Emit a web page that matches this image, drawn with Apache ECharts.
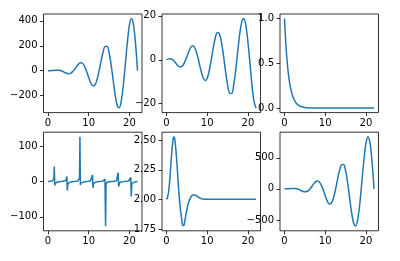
<!DOCTYPE html>
<html><head><meta charset="utf-8">
<script src="https://cdn.jsdelivr.net/npm/echarts@6/dist/echarts.min.js"></script>
<style>html,body{margin:0;padding:0;background:#fff}#c{width:400px;height:261px}</style>
</head><body><div id="c"></div>
<script>
// ---- data ----
const x1 = [0,0.5,1,1.5,2,2.5,3,3.5,4,4.5,5,5.5,6,6.5,7,7.5,8,8.5,9,9.5,10,10.5,11,11.5,12,12.5,13,13.5,14,14.5,15,15.5,16,16.5,17,17.5,18,18.5,19,19.5,20,20.5,21,21.5,21.99];
const y1 = [0,0.12,0.84,2.24,3.64,3.74,1.27,-4.30,-12.11,-19.79,-23.97,-21.34,-10.06,9.09,32.19,52.76,63.32,57.69,33.38,-6.79,-54.40,-96.99,-121.0,-115.78,-77.27,-10.36,71.01,146.49,194.16,196.56,146.32,49.61,-73.70,-193.79,-277.84,-298.78,-243.32,-117.22,54.08,230.24,365.16,418.95,368.98,218.00,0];
const y2 = [0,0.44,0.54,0.11,-0.83,-2.00,-2.97,-3.28,-2.61,-0.95,1.42,3.90,5.76,6.35,5.28,2.60,-1.16,-5.12,-8.20,-9.47,-8.39,-4.99,0.05,5.56,10.13,12.47,11.80,8.03,1.91,-5.15,-11.40,-15.17,-15.32,-11.59,-4.68,3.84,11.89,17.38,18.79,15.52,8.16,-1.63,-11.50,-18.96,-21.99];
const x3 = [0,0.25,0.5,0.75,1,1.25,1.5,2,2.5,3,3.5,4,5,6,7,8,10,12,14,16,18,20,21.99];
const y3 = [1,0.7788,0.6065,0.4724,0.3679,0.2865,0.2231,0.1353,0.0821,0.0498,0.0302,0.0183,0.0067,0.0025,0.0009,0.0003,0,0,0,0,0,0,0];
const x4 = [0,0.5,1.0,1.3,1.45,1.547,1.658,1.8,2.2,2.6,3.14,3.7,4.1,4.4,4.55,4.642,4.752,4.9,5.2,5.8,6.28,6.8,7.3,7.6,7.75,7.847,7.957,8.1,8.5,9.0,9.42,9.9,10.4,10.7,10.941,11.051,11.2,11.6,12.1,12.57,13.0,13.5,13.8,14.0,14.034,14.145,14.25,14.5,15.0,15.7,16.3,16.8,17.1,17.239,17.35,17.6,18.0,18.5,18.85,19.3,19.8,20.1,20.333,20.444,20.6,21.0,21.5,21.99];
const y4 = [0,0.55,1.56,3.6,8.2,42.2,-11.5,-4.3,-1.37,-0.6,0,0.63,1.42,3.1,6.1,14.05,-25.3,-5.3,-1.89,-0.53,0,0.57,1.6,3.85,9.6,126.6,-9.7,-4.0,-1.32,-0.45,0,0.52,1.47,3.3,18.1,-18.1,-4.9,-1.45,-0.5,0,0.46,1.35,2.9,7.3,9.7,-126.6,-8.9,-2.6,-0.86,0,0.67,1.93,5.5,25.3,-14.05,-3.0,-1.14,-0.36,0,0.48,1.4,3.0,11.5,-42.2,-5.45,-1.54,-0.53,0];
const x5 = [0,0.25,0.5,0.75,1,1.25,1.5,1.75,2,2.25,2.5,2.75,3,3.25,3.5,3.75,4,4.25,4.5,4.75,5,5.25,5.5,6,6.5,7,7.5,8,8.5,9,9.5,10,12,14,16,18,20,21.99];
const y5 = [2.0,2.015,2.06,2.14,2.26,2.375,2.47,2.527,2.515,2.44,2.34,2.21,2.08,1.975,1.895,1.83,1.778,1.78,1.815,1.865,1.91,1.95,1.98,2.02,2.037,2.036,2.027,2.015,2.006,2.002,2.0,2.0,2.0,2.0,2.0,2.0,2.0,2.0];
const y6 = [0,0.24,1.68,4.49,7.27,7.48,2.54,-8.6,-24.2,-39.6,-47.9,-42.7,-20.1,18.2,64.4,105.5,126.6,115.4,66.8,-13.6,-108.8,-194.0,-242.0,-231.6,-154.5,-20.7,142.0,293.0,388.3,393.1,292.6,99.2,-147.4,-387.6,-555.7,-597.6,-486.6,-234.4,108.2,460.5,730.3,837.9,738.0,436.0,0];

const xTicks = [0,10,20];
const xTickLabels = ['0','10','20'];
const yTicks1 = [-200,0,200,400];   const yTickLabels1 = ['\u2212200','0','200','400'];
const yTicks2 = [-20,0,20];         const yTickLabels2 = ['\u221220','0','20'];
const yTicks3 = [0,0.5,1];          const yTickLabels3 = ['0.0','0.5','1.0'];
const yTicks4 = [-100,0,100];       const yTickLabels4 = ['\u2212100','0','100'];
const yTicks5 = [1.75,2,2.25,2.5];  const yTickLabels5 = ['1.75','2.00','2.25','2.50'];
const yTicks6 = [-500,0,500];       const yTickLabels6 = ['\u2212500','0','500'];

// ---- layout ----
const panels = [
  {x:x1, y:y1, yt:yTicks1, yl:yTickLabels1, ymin:-337, ymax:455.5, smooth:true},
  {x:x1, y:y2, yt:yTicks2, yl:yTickLabels2, ymin:-24.03, ymax:20.86, smooth:true},
  {x:x3, y:y3, yt:yTicks3, yl:yTickLabels3, ymin:-0.05, ymax:1.05, smooth:true},
  {x:x4, y:y4, yt:yTicks4, yl:yTickLabels4, ymin:-139.3, ymax:139.3, smooth:false},
  {x:x5, y:y5, yt:yTicks5, yl:yTickLabels5, ymin:1.734, ymax:2.568, smooth:true},
  {x:x1, y:y6, yt:yTicks6, yl:yTickLabels6, ymin:-674, ymax:911, smooth:true}
];
const lefts = [43.5, 162, 280];
const tops = [14, 132.2];
const W = 98.5, H = 98.6;
const FONT = {fontFamily:'DejaVu Sans', fontSize:10, color:'#000'};

const grid=[], xAxis=[], yAxis=[], series=[];
function lab(ticks, labels){
  return function(v){ const i = ticks.findIndex(t => Math.abs(t - v) < 1e-9); return i >= 0 ? labels[i] : String(v); };
}
panels.forEach((p, i) => {
  const r = Math.floor(i/3), c = i%3;
  grid.push({left:lefts[c], top:tops[r], width:W, height:H, show:true, borderColor:'#000', borderWidth:0.8, backgroundColor:'#fff', containLabel:false});
  xAxis.push({type:'value', gridIndex:i, position:'bottom', min:-1.0996, max:23.09,
    axisLine:{show:false, onZero:false}, splitLine:{show:false},
    axisTick:{show:true, inside:false, customValues:xTicks, length:3.5, lineStyle:{color:'#000', width:0.8}},
    axisLabel:Object.assign({customValues:xTicks, margin:6, formatter:lab(xTicks, xTickLabels)}, FONT)});
  yAxis.push({type:'value', gridIndex:i, position:'left', min:p.ymin, max:p.ymax,
    axisLine:{show:false, onZero:false}, splitLine:{show:false},
    axisTick:{show:true, inside:false, customValues:p.yt, length:3.5, lineStyle:{color:'#000', width:0.8}},
    axisLabel:Object.assign({customValues:p.yt, margin:6, formatter:lab(p.yt, p.yl)}, FONT)});
  series.push({type:'line', xAxisIndex:i, yAxisIndex:i, showSymbol:false, smooth:p.smooth ? 0.35 : false,
    lineStyle:{color:'#1f77b4', width:1.5}, itemStyle:{color:'#1f77b4'},
    data:p.x.map((xv, k) => [xv, p.y[k]])});
});

const chart = echarts.init(document.getElementById('c'), null, {renderer:'canvas'});
chart.setOption({animation:false, backgroundColor:'#fff', grid, xAxis, yAxis, series});
</script>
</body></html>
